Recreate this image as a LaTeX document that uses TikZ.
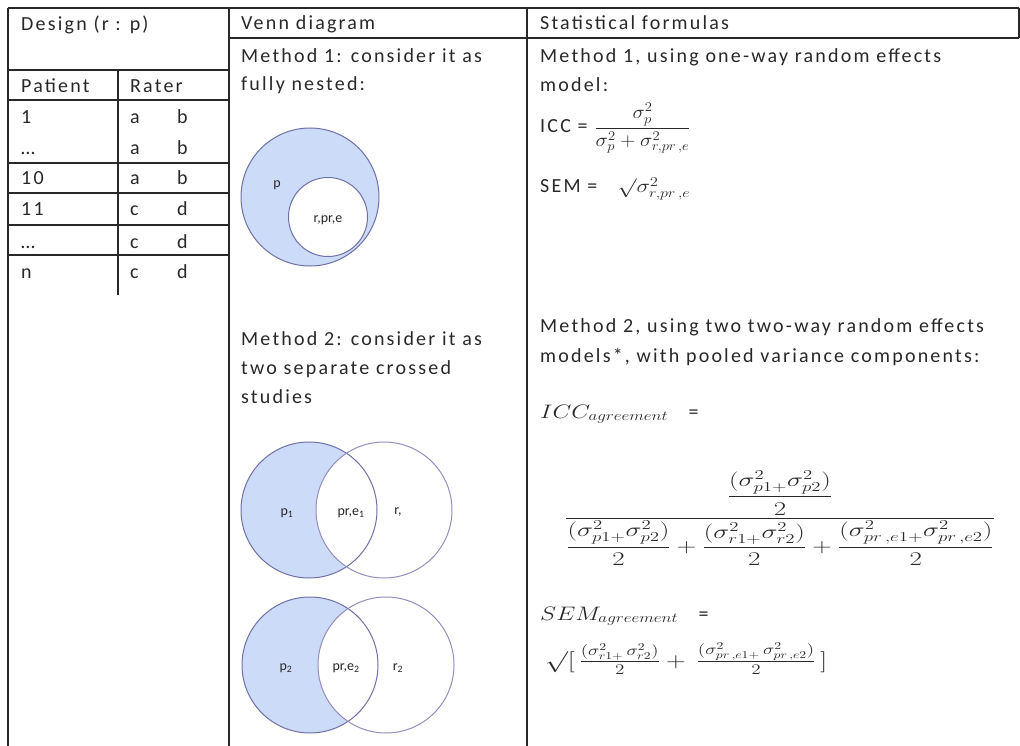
\RequirePackage{fix-cm}
\documentclass[tikz,border=0pt]{standalone}
\usepackage{amsmath}
\usepackage{graphicx}
\usepackage{fontspec}
\setmainfont{Carlito}[LetterSpace=11]
\newfontfamily\lblfont{Carlito}
\definecolor{vennfill}{RGB}{204,219,247}
\definecolor{vennline}{RGB}{112,112,168}
\definecolor{vennlineb}{RGB}{150,140,190}
\definecolor{tcol}{RGB}{40,40,40}
\definecolor{rule}{RGB}{40,40,40}
\newcommand{\mfont}{\fontsize{19}{22}\selectfont}
\newcommand{\bigmfont}{\fontsize{19.5}{23}\selectfont}
\newcommand{\wide}[2]{\scalebox{#1}[1]{#2}}
\begin{document}
\begin{tikzpicture}[x=1pt,y=-1pt,
  txt/.style={inner sep=0pt,anchor=base west,text=tcol,font=\fontsize{20}{24}\selectfont},
  lbl/.style={inner sep=0pt,text=tcol,font=\lblfont\fontsize{14}{16}\selectfont},
  tline/.style={draw=rule,line width=1.3pt},
  ring/.style={draw=vennline,line width=1pt},
  ringb/.style={draw=vennlineb,line width=1pt}]
\useasboundingbox (0,0) rectangle (1020,746);
% ---- table rules ----
\draw[tline] (8,8) -- (1019,8);
\draw[tline] (229,38) -- (1019,38);
\draw[tline] (1019,8) -- (1019,38);
\draw[tline] (8,8) -- (8,746);
\draw[tline] (229,8) -- (229,746);
\draw[tline] (527,8) -- (527,746);
\foreach \yy in {70,100,163,193,225,255} \draw[tline] (8,\yy) -- (229,\yy);
\draw[tline] (118,70) -- (118,295);
% ---- first column ----
\node[txt] (design) at (21,31) {Design (r : p)};
\node[txt] (patient) at (21,93) {Patient};
\node[txt] (rater) at (130,93) {Rater};
\node[txt] (p1) at (21,124) {1};
\node[txt] (p1a) at (130,124) {a};
\node[txt] (p1b) at (177,124) {b};
\node[txt] (p2) at (21,155) {\dots};
\node[txt] (p2a) at (130,155) {a};
\node[txt] (p2b) at (177,155) {b};
\node[txt] (p3) at (21,185) {10};
\node[txt] (p3a) at (130,185) {a};
\node[txt] (p3b) at (177,185) {b};
\node[txt] (p4) at (21,216) {11};
\node[txt] (p4a) at (130,216) {c};
\node[txt] (p4b) at (177,216) {d};
\node[txt] (p5) at (21,248) {\dots};
\node[txt] (p5a) at (130,248) {c};
\node[txt] (p5b) at (177,248) {d};
\node[txt] (p6) at (21,278) {n};
\node[txt] (p6a) at (130,278) {c};
\node[txt] (p6b) at (177,278) {d};
% ---- middle column ----
\node[txt] (venn) at (241,30) {Venn diagram};
\node[txt] (m1a) at (241,63) {Method 1: consider it as};
\node[txt] (m1b) at (241,91) {fully nested:};
\node[txt] (m2a) at (241,345) {Method 2: consider it as};
\node[txt] (m2b) at (241,374) {two separate crossed};
\node[txt] (m2c) at (241,403) {studies};
% Venn 1
\fill[vennfill] (310,197) circle[radius=69pt];
\draw[ring] (310,197) circle[radius=69pt];
\fill[white] (328,217) circle[radius=39.5pt];
\draw[ring] (328,217) circle[radius=39.5pt];
\node[lbl] (vp) at (277,185) {p};
\node[lbl] (vr) at (328,220) {r,pr,e};
% Venn 2 upper
\fill[vennfill] (309,510) circle[radius=68pt];
\fill[white] (384,510) circle[radius=68pt];
\draw[ring] (309,510) circle[radius=68pt];
\draw[ringb] (384,510) circle[radius=68pt];
\node[lbl] (ua) at (287,513) {p\textsubscript{1}};
\node[lbl] (ub) at (351,513) {pr,e\textsubscript{1}};
\node[lbl] (uc) at (398,512) {r,};
% Venn 2 lower
\fill[vennfill] (310,665) circle[radius=68pt];
\fill[white] (386,665) circle[radius=68pt];
\draw[ring] (310,665) circle[radius=68pt];
\draw[ringb] (386,665) circle[radius=68pt];
\node[lbl] (la) at (286,668) {p\textsubscript{2}};
\node[lbl] (lb) at (346,668) {pr,e\textsubscript{2}};
\node[lbl] (lc) at (398,668) {r\textsubscript{2}};
% ---- right column ----
\node[txt] (stat) at (540,30) {Statistical formulas};
\node[txt] (f1a) at (540,63) {Method 1, using one-way random effects};
\node[txt] (f1b) at (540,92) {model:};
\node[txt] (icc1) at (540,133) {ICC = {\mfont\wide{1.1}{$\dfrac{\sigma_p^2}{\sigma_p^2+\sigma^2_{r,pr\,,e}}$}}};
\node[txt] (sem1) at (540,193) {SEM = \ \ {\mfont\wide{1.2}{$\surd\sigma^2_{r,pr\,,e}$}}};
\node[txt] (f2a) at (540,332) {Method 2, using two two-way random effects};
\node[txt] (f2b) at (540,362) {models*, with pooled variance components:};
\node[txt] (icc2) at (540,418) {{\bigmfont\wide{1.25}{$ICC_{agreement}$}}\ \ \ =};
\node[inner sep=0pt,text=tcol,font=\bigmfont] (bigfrac) at (780,518)
  {\wide{1.38}{$\dfrac{\dfrac{(\sigma^2_{p1+}\sigma^2_{p2})}{2}}
   {\dfrac{(\sigma^2_{p1+}\sigma^2_{p2})}{2}+\dfrac{(\sigma^2_{r1+}\sigma^2_{r2})}{2}+\dfrac{(\sigma^2_{pr\,,e1+}\sigma^2_{pr\,,e2})}{2}}$}};
\node[txt] (sem2a) at (540,620) {{\bigmfont\wide{1.25}{$SEM_{agreement}$}}\ \ \ =};
\node[txt] (sem2b) at (545,667) {{\fontsize{21}{24}\selectfont\wide{1.3}{$\surd[\,\frac{(\sigma^2_{r1+}\,\sigma^2_{r2})}{2}+\,\frac{(\sigma^2_{pr\,,e1+}\,\sigma^2_{pr\,,e2})}{2}\,]$}}};
\end{tikzpicture}
\end{document}
